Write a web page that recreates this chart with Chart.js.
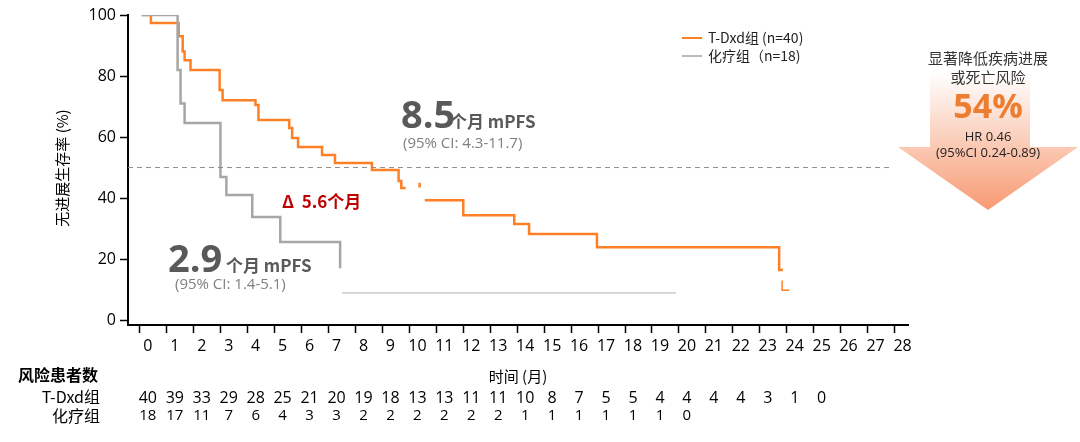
<!DOCTYPE html>
<html><head><meta charset="utf-8">
<script src="https://cdn.jsdelivr.net/npm/chart.js@4"></script>
<style>html,body{margin:0;padding:0;background:#fff}#w{width:1080px;height:442px}</style>
</head><body><div id="w"><canvas id="c" width="1080" height="442"></canvas></div>
<script>
const xTicks = [0,1,2,3,4,5,6,7,8,9,10,11,12,13,14,15,16,17,18,19,20,21,22,23,24,25,26,27,28];
const yTicks = [0,20,40,60,80,100];
const tdxdT1 = [0.07,0.41,1.44,1.59,1.66,1.88,2.96,3.07,4.29,4.40,5.54,5.65,5.87,6.76,7.24,8.61,9.6,9.7,9.86];
const tdxdS1 = [100,97.4,93,88,85.2,82,75.4,72.1,70.5,65.6,63,59.7,56.7,54.1,51.5,49.2,45.6,43.3,43.3];
const tdxdT2 = [10.57,12.0,13.89,14.44,16.96,23.72,23.86];
const tdxdS2 = [39.3,34.4,31.5,28.2,23.9,16.4,16.4];
const tdxdTickT = [10.38,10.38];
const tdxdTickS = [45,43.5];
const tdxdTailT = [23.83,23.83,24.1];
const tdxdTailS = [13,9.8,9.8];
const chemoT = [0.07,1.4,1.51,1.66,2.99,3.21,4.17,5.21,7.43];
const chemoS = [100,82,71,64.6,46.9,41,33.8,25.6,17];
const chemoTailT = [7.5,19.9];
const chemoTailS = [8.9,8.9];
const medianT = [-0.44,27.8];
const medianS = [50,50];
const riskTdxd = [40,39,33,29,28,25,21,20,19,18,13,13,11,11,10,8,7,5,5,4,4,4,4,3,1,0];
const riskChemo = [18,17,11,7,6,4,3,3,2,2,2,2,2,2,1,1,1,1,1,1,0];

const pts=(t,s)=>t.map((x,i)=>({x:x,y:s[i]}));
const OR='#ff7f27', GR='#a6a6a6';
const F="'Open Sans','Noto Sans CJK SC',sans-serif";
const FC="'Noto Sans CJK SC','Open Sans',sans-serif";

const deco={id:'deco',afterDraw(ch){
 const c=ch.ctx, xs=ch.scales.x;
 c.save();
 c.fillStyle='#000'; c.font='15px '+FC; c.textAlign='center'; c.textBaseline='middle';
 c.save(); c.translate(62,168); c.rotate(-Math.PI/2); c.fillText('无进展生存率 (%)',0,0); c.restore();
 c.fillText('时间 (月)',518,376);
 c.font='bold 16px '+FC; c.textAlign='left'; c.fillText('风险患者数',18,375);
 c.font='16px '+FC; c.textAlign='right'; c.fillText('T-Dxd组',100,397); c.fillText('化疗组',100,416);
 c.textAlign='center'; c.font='16px '+F;
 riskTdxd.forEach((v,i)=>c.fillText(String(v),xs.getPixelForValue(i)+8,398));
 c.font='15px '+F;
 riskChemo.forEach((v,i)=>c.fillText(String(v),xs.getPixelForValue(i)+8,416));
 c.textAlign='left'; c.textBaseline='alphabetic'; c.fillStyle='#595959';
 c.font='bold 38px '+F; c.fillText('8.5',401,128);
 c.font='bold 17px '+FC; c.fillText('个月 mPFS',450,128);
 c.font='15px '+F; c.fillStyle='#7f7f7f'; c.fillText('(95% CI: 4.3-11.7)',403,148);
 c.fillStyle='#595959'; c.font='bold 38px '+F; c.fillText('2.9',168,272);
 c.font='bold 17px '+FC; c.fillText('个月 mPFS',226,272);
 c.font='15px '+F; c.fillStyle='#7f7f7f'; c.fillText('(95% CI: 1.4-5.1)',175,289);
 c.fillStyle='#c00000'; c.font='bold 17px '+FC; c.fillText('Δ  5.6个月',282,208);
 c.lineWidth=2; c.strokeStyle=OR; c.beginPath(); c.moveTo(682,38); c.lineTo(702,38); c.stroke();
 c.lineWidth=1; c.strokeStyle='#777'; c.beginPath(); c.moveTo(682,56); c.lineTo(702,56); c.stroke();
 c.fillStyle='#222'; c.font='14px '+FC; c.textBaseline='middle';
 c.fillText('T-Dxd组 (n=40)',708,38); c.fillText('化疗组（n=18)',708,56);
 const g=c.createLinearGradient(0,73,0,210); g.addColorStop(0,'rgba(255,255,255,1)'); g.addColorStop(1,'#f79a72');
 c.fillStyle=g; c.beginPath(); c.moveTo(930,73); c.lineTo(1030,73); c.lineTo(1030,147); c.lineTo(1078,147);
 c.lineTo(988,210); c.lineTo(898,147); c.lineTo(930,147); c.closePath(); c.fill();
 c.textAlign='center'; c.fillStyle='#333'; c.font='15px '+FC;
 c.fillText('显著降低疾病进展',988,58); c.fillText('或死亡风险',988,77);
 c.fillStyle='#ed7d31'; c.font='bold 34px '+F; c.fillText('54%',988,108);
 c.fillStyle='#222'; c.font='13px '+F; c.fillText('HR 0.46',988,137); c.fillText('(95%CI 0.24-0.89)',988,153);
 c.restore();
}};

const line=(d,col,w,extra)=>Object.assign({data:d,borderColor:col,borderWidth:w,pointRadius:0,fill:false,tension:0},extra||{});
const gridOpt={display:true,drawOnChartArea:false,drawTicks:true,tickLength:8,tickColor:'#000',tickWidth:1.5};
new Chart(document.getElementById('c'),{
 type:'line',
 data:{datasets:[
  line(pts(medianT,medianS),'#8c8c8c',1,{borderDash:[5,4]}),
  line(pts(chemoT,chemoS),GR,2.5,{stepped:true}),
  line(pts(chemoTailT,chemoTailS),'#b0b0b0',1),
  line(pts(tdxdT1,tdxdS1),OR,2.5,{stepped:true}),
  line(pts(tdxdT2,tdxdS2),OR,2.5,{stepped:true}),
  line(pts(tdxdTickT,tdxdTickS),OR,2.5),
  line(pts(tdxdTailT,tdxdTailS),OR,1.5)
 ]},
 options:{responsive:false,animation:false,devicePixelRatio:1,
  layout:{padding:{left:0,right:172,top:15,bottom:0}},
  plugins:{legend:{display:false},tooltip:{enabled:false}},
  scales:{
   x:{type:'linear',min:-0.44,max:28.5,afterBuildTicks:s=>{s.ticks=xTicks.map(v=>({value:v}))},
     afterFit:s=>{s.height=117},
     grid:gridOpt, border:{color:'#000',width:2},
     ticks:{color:'#000',font:{size:16,family:F},labelOffset:8,padding:4,maxRotation:0,autoSkip:false,callback:v=>String(v)}},
   y:{type:'linear',min:-1.6,max:100,afterBuildTicks:s=>{s.ticks=yTicks.map(v=>({value:v}))},
     afterFit:s=>{s.width=128},
     grid:gridOpt, border:{color:'#000',width:2},
     ticks:{color:'#000',font:{size:16,family:F},padding:4}}
  }},
 plugins:[deco]
});
</script></body></html>
